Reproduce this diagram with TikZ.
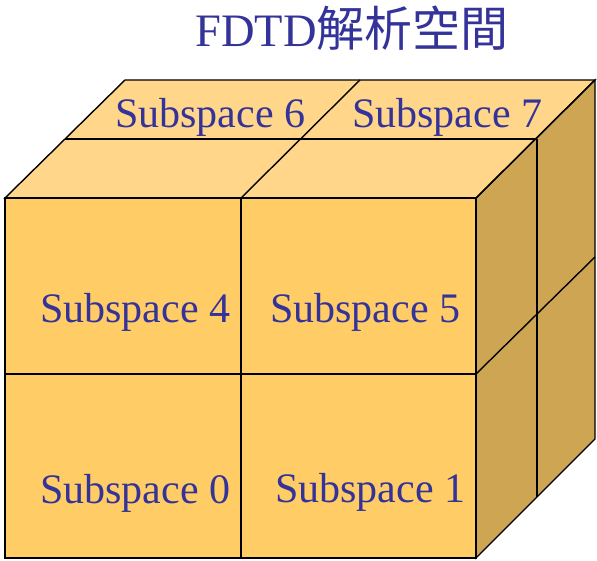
\documentclass[tikz,border=0pt]{standalone}
\usepackage{fontspec}
\setmainfont{Liberation Serif}
\newfontfamily\cjk{Noto Sans CJK TC}
\definecolor{frontc}{RGB}{255,204,102}
\definecolor{topc}{RGB}{255,214,138}
\definecolor{sidec}{RGB}{205,165,83}
\definecolor{txtc}{RGB}{51,51,153}
\tikzset{
  face/.style={draw=black, line width=1.4pt, line join=miter},
  lbl/.style={anchor=base west, inner sep=0pt, text=txtc, font=\fontsize{42}{46}\selectfont},
}
\begin{document}
\begin{tikzpicture}[x=1pt,y=-1pt]
\useasboundingbox (0,0) rectangle (597,561);
% key corners
\coordinate (FTL) at (5,198);
\coordinate (FTR) at (476,198);
\coordinate (FBR) at (476,558);
\coordinate (FBL) at (5,558);
\coordinate (BTL) at (125,80);
\coordinate (BTR) at (595,80);
\coordinate (BBR) at (595,439);
% top face
\fill[topc] (FTL) -- (FTR) -- (BTR) -- (BTL) -- cycle;
% right face
\fill[sidec] (FTR) -- (BTR) -- (BBR) -- (FBR) -- cycle;
% front face
\fill[frontc] (FTL) rectangle (FBR);
% top grid
\draw[face] (FTL) -- (FTR) -- (BTR) -- (BTL) -- cycle;
\draw[face] (65,139) -- (537,139);
\draw[face] (241,198) -- (360,80);
% right grid
\draw[face] (FTR) -- (BTR) -- (BBR) -- (FBR) -- cycle;
\draw[face] (537,139) -- (537,497);
\draw[face] (476,374) -- (595,257);
% front grid
\draw[face] (FTL) rectangle (FBR);
\draw[face] (241,198) -- (241,558);
\draw[face] (5,374) -- (476,374);
% labels
\node[lbl] (s6) at (115,128) {Subspace 6};
\node[lbl] (s7) at (352,128) {Subspace 7};
\node[lbl] (s4) at (40,323) {Subspace 4};
\node[lbl] (s5) at (270,323) {Subspace 5};
\node[lbl] (s0) at (40,503) {Subspace 0};
\node[lbl] (s1) at (275,502) {Subspace 1};
\node[anchor=base west, inner sep=0pt, text=txtc, font=\fontsize{46.5}{50}\selectfont] (title) at (195,47) {FDTD{\cjk\fontsize{48}{50}\selectfont 解析空間}};
\end{tikzpicture}
\end{document}
